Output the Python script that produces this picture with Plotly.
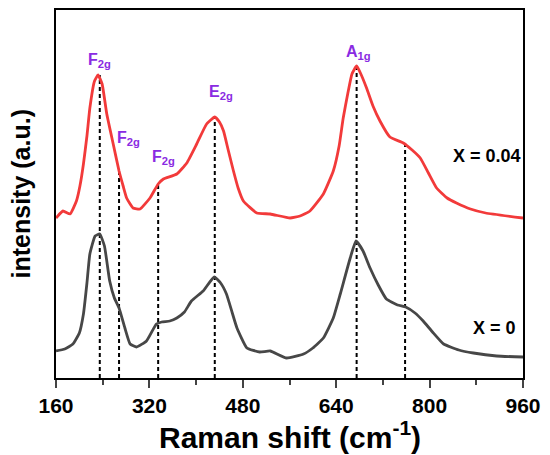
import plotly.graph_objects as go

# Raman spectra (arbitrary intensity units)
shift_x0 = [160, 175, 189, 200, 207, 213, 218, 227, 235, 243, 252, 260, 268, 278, 287, 298, 315,
            332, 341, 355, 367, 380, 392, 412, 431, 442, 452, 462, 470, 487, 509, 527, 555, 584,
            600, 618, 635, 647, 664, 674, 686, 698, 712, 726, 745, 759, 775, 789, 805, 824, 850,
            875, 915, 960]
inten_x0 = [27, 29, 34, 45, 64, 95, 124, 142, 144, 132, 97, 80, 70, 50, 34, 31, 37,
            54, 56, 57, 60, 66, 77, 87, 101, 95, 84, 65, 50, 30, 26, 27, 20, 24,
            30, 40, 60, 84, 120, 137, 127, 110, 93, 79, 73, 71, 65, 57, 46, 34, 28,
            25, 22, 21]

shift_x004 = [160, 172, 184, 195, 201, 207, 213, 218, 226, 232, 239, 247, 258, 268, 275, 281, 292,
              304, 321, 335, 344, 367, 384, 401, 418, 432, 440, 447, 455, 464, 472, 481, 504, 527,
              561, 578, 595, 618, 635, 645, 652, 660, 667, 675, 683, 692, 703, 715, 732, 755, 770,
              784, 798, 812, 830, 846, 870, 896, 960]
inten_x004 = [160, 167, 164, 177, 192, 214, 242, 270, 297, 303, 294, 264, 234, 207, 192, 180, 170,
              169, 180, 194, 199, 204, 215, 234, 254, 261, 256, 247, 228, 207, 190, 177, 165, 164,
              160, 162, 167, 184, 207, 232, 260, 285, 304, 312, 303, 290, 272, 257, 241, 235, 228,
              220, 205, 190, 180, 175, 169, 165, 160]

# peak positions marked with dashed lines (cm-1) and their top ends
peak_pos = [235, 268, 335, 432, 675, 758]
peak_top = [303, 207, 194, 261, 312, 235]

# mode labels
label_text = ["F<sub>2g</sub>", "F<sub>2g</sub>", "F<sub>2g</sub>", "E<sub>2g</sub>", "A<sub>1g</sub>"]
label_x = [235, 284, 345, 443, 679]
label_y = [318, 240, 221, 286, 326]

BOLD = dict(family="Arial, Liberation Sans", weight="bold", color="black")

fig = go.Figure()

for px, top in zip(peak_pos, peak_top):
    fig.add_trace(go.Scatter(x=[px, px], y=[0, top], mode="lines",
                             line=dict(color="black", width=2, dash="4px,3px"),
                             showlegend=False, hoverinfo="skip"))

fig.add_trace(go.Scatter(x=shift_x0, y=inten_x0, mode="lines", name="X = 0",
                         line=dict(color="#474747", width=2.8, shape="spline", smoothing=0.4)))
fig.add_trace(go.Scatter(x=shift_x004, y=inten_x004, mode="lines", name="X = 0.04",
                         line=dict(color="#f23a3a", width=2.8, shape="spline", smoothing=0.4)))

for t, x, y in zip(label_text, label_x, label_y):
    fig.add_annotation(x=x, y=y, text=t, showarrow=False,
                       font=dict(BOLD, size=16, color="#8a2be2"))

fig.add_annotation(xref="paper", x=1.0, y=222, text="X = 0.04", showarrow=False, xanchor="right",
                   font=dict(BOLD, size=18))
fig.add_annotation(xref="paper", x=0.99, y=50, text="X = 0", showarrow=False, xanchor="right",
                   font=dict(BOLD, size=18))

# axis titles
fig.add_annotation(xref="paper", yref="paper", x=0.5, y=-0.155, yanchor="middle",
                   text="Raman shift (cm<sup>-1</sup>)", showarrow=False,
                   font=dict(BOLD, size=30))
fig.add_annotation(xref="paper", yref="paper", x=-0.074, y=0.5, xanchor="center",
                   textangle=-90, text="intensity (a.u.)", showarrow=False,
                   font=dict(BOLD, size=25))

# page body adds an 8px offset, so the figure is a bit smaller than the window
fig.update_layout(
    width=542, height=447,
    margin=dict(l=48, r=27, t=2, b=77),
    plot_bgcolor="white", paper_bgcolor="white",
    showlegend=False,
    font=dict(family="Arial, Liberation Sans", color="black"),
)
fig.update_xaxes(range=[160, 960], tickvals=[160, 320, 480, 640, 800, 960], automargin=False,
                 ticks="outside", ticklen=8, tickwidth=2, showgrid=False, zeroline=False,
                 showline=True, linecolor="black", linewidth=2, mirror=True,
                 minor=dict(tickvals=[240, 400, 560, 720, 880], ticks="outside", ticklen=5, tickwidth=2),
                 tickfont=dict(BOLD, size=21))
fig.update_yaxes(range=[0, 368], showticklabels=False, ticks="", showgrid=False, zeroline=False,
                 automargin=False, showline=True, linecolor="black", linewidth=2, mirror=True)

fig.write_html("out.html")
